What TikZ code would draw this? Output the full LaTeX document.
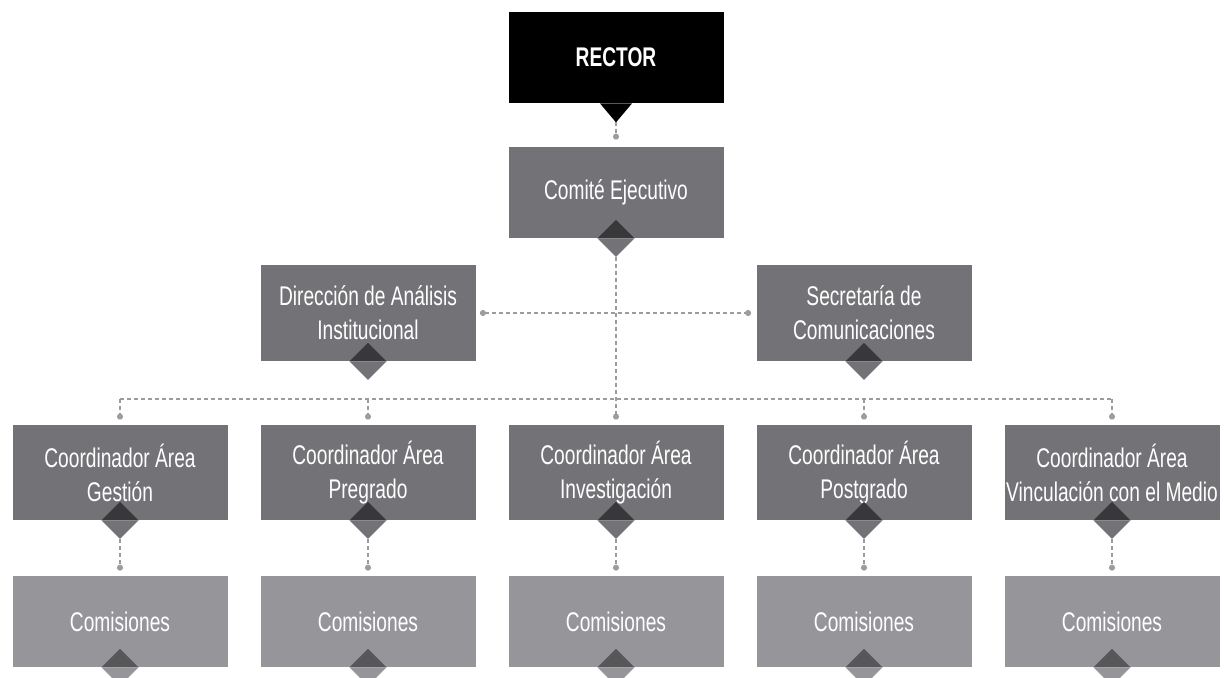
\documentclass[tikz,border=0pt]{standalone}
\usepackage{fontspec}
\setmainfont{Liberation Sans}[FakeStretch=0.71]
\usetikzlibrary{positioning,arrows.meta}
\definecolor{unitgray}{HTML}{737377}
\definecolor{unitdark}{HTML}{38383B}
\definecolor{comgray}{HTML}{96969A}
\definecolor{comdark}{HTML}{57575A}
\definecolor{linkgray}{HTML}{9C9C9F}

% diamond under a box: dark upper half, light lower half
\newcommand{\knob}[3]{%
  \fill[#2] ([xshift=-9.25pt]#1.south) -- ++(18.5,-18.5) -- ++(18.5,18.5) -- cycle;
  \fill[#3] ([xshift=-9.25pt]#1.south) -- ++(18.5,18.5) -- ++(18.5,-18.5) -- cycle;}

\begin{document}
\begin{tikzpicture}[x=0.5pt,y=-0.5pt,font=\fontsize{13.5}{17}\selectfont]

		% Setup the styles
		\tikzset{unit style/.style={rectangle,
				minimum width=107.5pt,
				minimum height=45.5pt,
				inner sep=0pt,
				align=center,
				text=white,
				fill=unitgray},
			com style/.style={unit style, fill=comgray},
			link/.style={draw=linkgray,
				line width=0.6pt,
				dash pattern=on 2pt off 1.5pt,
				-{Circle[length=3pt]}}}

		\useasboundingbox (0,0) rectangle (1226,677);
		\clip (0,0) rectangle (1226,677);

		% Draw the units
		\node[unit style, fill=black, font=\fontsize{13.5}{17}\selectfont\bfseries] at (616,57.5) (rector) {RECTOR};
		\node[unit style] at (616,192.5) (comite) {Comité Ejecutivo};
		\node[unit style, minimum height=48pt] at (368,313) (analisis) {Dirección de Análisis\\Institucional};
		\node[unit style, minimum height=48pt] at (864,313) (secretaria) {Secretaría de\\Comunicaciones};

		\node[unit style, minimum height=47.5pt] at (120,472.5) (gestion) {Coordinador Área\\Gestión};
		\node[unit style, minimum height=47.5pt] at (368,472.5) (pregrado) {Coordinador Área\\Pregrado};
		\node[unit style, minimum height=47.5pt] at (616,472.5) (investigacion) {Coordinador Área\\Investigación};
		\node[unit style, minimum height=47.5pt] at (864,472.5) (postgrado) {Coordinador Área\\Postgrado};
		\node[unit style, minimum height=47.5pt] at (1112,472.5) (vinculacion) {Coordinador Área\\Vinculación con el Medio};

		\node[com style] at (120,621.5) (comGestion) {Comisiones};
		\node[com style] at (368,621.5) (comPregrado) {Comisiones};
		\node[com style] at (616,621.5) (comInvestigacion) {Comisiones};
		\node[com style] at (864,621.5) (comPostgrado) {Comisiones};
		\node[com style] at (1112,621.5) (comVinculacion) {Comisiones};

		% Pointer and diamonds
		\fill[black] ([xshift=-8pt]rector.south) -- ++(16,19) coordinate (rector tip) -- ++(16,-19) -- cycle;
		\knob{comite}{unitdark}{unitgray}
		\knob{analisis}{unitdark}{unitgray}
		\knob{secretaria}{unitdark}{unitgray}
		\knob{gestion}{unitdark}{unitgray}
		\knob{pregrado}{unitdark}{unitgray}
		\knob{investigacion}{unitdark}{unitgray}
		\knob{postgrado}{unitdark}{unitgray}
		\knob{vinculacion}{unitdark}{unitgray}
		\knob{comGestion}{comdark}{comgray}
		\knob{comPregrado}{comdark}{comgray}
		\knob{comInvestigacion}{comdark}{comgray}
		\knob{comPostgrado}{comdark}{comgray}
		\knob{comVinculacion}{comdark}{comgray}

		\coordinate (bus left) at (120,399);
		\coordinate (bus right) at (1112,399);

		% Connect the units
		\draw[link] (rector tip) -- ([yshift=3.5pt]comite.north);
		\draw[link] ([yshift=-9.25pt]comite.south) -- ([yshift=2.5pt]investigacion.north);
		\draw[link, {Circle[length=3pt]}-{Circle[length=3pt]}] ([xshift=2pt]analisis.east) -- ([xshift=-2.5pt]secretaria.west);
		\draw[link, -] (bus left) -- (bus right);
		\draw[link] (bus left) -- ([yshift=2.5pt]gestion.north);
		\draw[link] (bus left -| pregrado) -- ([yshift=2.5pt]pregrado.north);
		\draw[link] (bus left -| postgrado) -- ([yshift=2.5pt]postgrado.north);
		\draw[link] (bus right) -- ([yshift=2.5pt]vinculacion.north);

		\draw[link] ([yshift=-9.25pt]gestion.south) -- ([yshift=2.5pt]comGestion.north);
		\draw[link] ([yshift=-9.25pt]pregrado.south) -- ([yshift=2.5pt]comPregrado.north);
		\draw[link] ([yshift=-9.25pt]investigacion.south) -- ([yshift=2.5pt]comInvestigacion.north);
		\draw[link] ([yshift=-9.25pt]postgrado.south) -- ([yshift=2.5pt]comPostgrado.north);
		\draw[link] ([yshift=-9.25pt]vinculacion.south) -- ([yshift=2.5pt]comVinculacion.north);
\end{tikzpicture}
\end{document}
